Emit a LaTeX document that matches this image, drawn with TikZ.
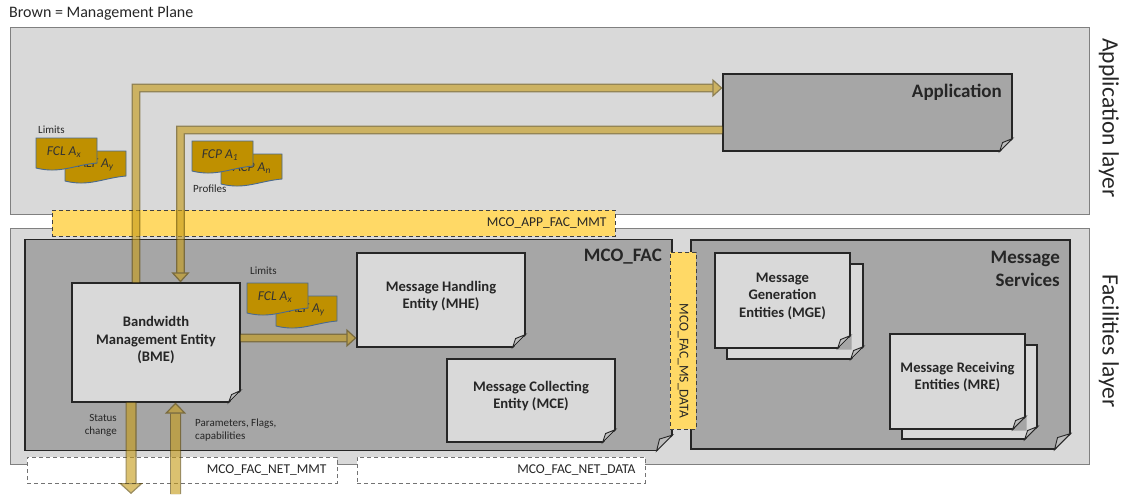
\documentclass[tikz,border=0pt]{standalone}
\usepackage{fontspec}
\setmainfont{Carlito}
\usetikzlibrary{arrows.meta}

\definecolor{panelgray}{HTML}{D9D9D9}
\definecolor{boxgray}{HTML}{A6A6A6}
\definecolor{foldgray}{HTML}{BDBDBD}
\definecolor{bandyellow}{HTML}{FFD966}
\definecolor{docbrown}{HTML}{BF9000}
\definecolor{docedge}{HTML}{4A6A8F}
\definecolor{flowedge}{HTML}{5F4800}

\tikzset{
	panel/.style={draw=gray, fill=panelgray, line width=0.8pt, rectangle, inner sep=0pt},
	notebox/.style={draw=black!85, fill=#1, line width=1.1pt, rectangle, inner sep=0pt},
	boxtext/.style={font=\fontsize{14.6}{17.6}\selectfont\bfseries, align=center, text=black!85},
	titletext/.style={font=\fontsize{19}{23}\selectfont\bfseries, align=right, text=black!85},
	smalltext/.style={font=\fontsize{11}{13}\selectfont, text=black!85},
	bandtext/.style={font=\fontsize{13.5}{15}\selectfont, text=black!85},
	layertext/.style={font=\fontsize{23.5}{25}\selectfont, rotate=-90, text=black!85},
	yellowband/.style={draw=black!75, fill=bandyellow, dash pattern=on 4pt off 3pt, line width=0.9pt},
	whiteband/.style={draw=black!55, fill=white, dash pattern=on 4pt off 3pt, line width=0.9pt},
	doc/.style={draw=docedge, fill=docbrown, line width=0.9pt},
	doctext/.style={font=\fontsize{13.5}{15}\selectfont\itshape, text=black!80},
	flow/.style={draw=flowedge, double=docbrown!90, line width=1.2pt, double distance=6.2pt,
		-{Triangle[length=10pt,width=18pt,fill=docbrown!90]}},
	wideflow/.style={draw=flowedge, double=docbrown!90, line width=1.2pt, double distance=8.6pt,
		-{Triangle[length=11pt,width=#1,fill=docbrown!90]}}
}

% fold in the lower right corner of a note: node, size, colour behind it
\newcommand{\notefold}[3]{
	\fill[#3] ([shift={(-#2,1)}]#1.south east) -- ([shift={(1,1)}]#1.south east) -- ([shift={(1,-#2)}]#1.south east) -- cycle;
	\draw[draw=black!85, fill=foldgray, line width=0.9pt] ([shift={(-#2,0)}]#1.south east) -- ([shift={(0,-#2)}]#1.south east) -- ([shift={(-#2+3,-#2+4)}]#1.south east) -- cycle;
}

% a pair of waved documents: name, x, y, front text, back text
\newcommand{\docpair}[5]{
	\draw[doc] (#2+29,#3+13) -- (#2+90,#3+13) -- (#2+90,#3+38) .. controls (#2+67,#3+40) and (#2+53,#3+49) .. (#2+29,#3+43) -- cycle;
	\node[doctext] (#1back) at (#2+60,#3+27) {#5};
	\draw[doc] (#2,#3) -- (#2+61,#3) -- (#2+61,#3+25) .. controls (#2+38,#3+27) and (#2+24,#3+36) .. (#2,#3+30) -- cycle;
	\node[doctext] (#1front) at (#2+28,#3+14) {#4};
}

\begin{document}
\begin{tikzpicture}[x=1pt,y=-1pt]
	\useasboundingbox (0,0) rectangle (1125,495);

	% layers
	\node[panel, minimum width=1079, minimum height=187] (applayer) at (549.5,120.5) {};
	\node[panel, minimum width=1079, minimum height=236] (faclayer) at (549.5,346) {};
	\node[font=\fontsize{16}{18}\selectfont, anchor=west, inner sep=0pt, text=black!85] (legend) at (9,13) {Brown = Management Plane};
	\node[layertext] (applabel) at (1109,118) {Application layer};
	\node[layertext] (faclabel) at (1109,341) {Facilities layer};

	% application
	\node[notebox=boxgray, minimum width=289, minimum height=77] (app) at (867.5,112.5) {};
	\notefold{app}{13}{panelgray}
	\node[titletext, anchor=east, inner sep=0pt] (apptext) at (1002,92) {Application};

	% containers
	\node[notebox=boxgray, minimum width=647, minimum height=211] (fac) at (348.5,345) {};
	\notefold{fac}{16}{panelgray}
	\node[titletext, anchor=east, inner sep=0pt] (factext) at (662,257) {MCO\_FAC};
	\node[notebox=boxgray, minimum width=379, minimum height=209] (ms) at (880.5,344.5) {};
	\notefold{ms}{16}{panelgray}
	\node[titletext, anchor=east, inner sep=0pt] (mstext) at (1060,268.5) {Message\\Services};

	% interfaces
	\node[yellowband, minimum width=563, minimum height=26] (appfac) at (333.5,223) {};
	\node[bandtext, anchor=east] (appfactext) at (610,223) {MCO\_APP\_FAC\_MMT};
	\node[yellowband, minimum width=26, minimum height=177] (facms) at (683,340.5) {};
	\node[bandtext, rotate=-90] (facmstext) at (683,361) {MCO\_FAC\_MS\_DATA};
	\node[whiteband, minimum width=310, minimum height=26] (netmmt) at (182,470) {};
	\node[bandtext, anchor=east] (netmmttext) at (330,470) {MCO\_FAC\_NET\_MMT};
	\node[whiteband, minimum width=288, minimum height=26] (netdata) at (501,470) {};
	\node[bandtext, anchor=east] (netdatatext) at (639,470) {MCO\_FAC\_NET\_DATA};

	% facilities
	\node[notebox=panelgray, minimum width=168, minimum height=119] (bme) at (156,342.5) {};
	\notefold{bme}{12}{boxgray}
	\node[boxtext] (bmetext) at (156,340) {Bandwidth\\Management Entity\\(BME)};
	\node[notebox=panelgray, minimum width=168, minimum height=94] (mhe) at (441,300) {};
	\notefold{mhe}{13}{boxgray}
	\node[boxtext] (mhetext) at (441,296) {Message Handling\\Entity (MHE)};
	\node[notebox=panelgray, minimum width=168, minimum height=83] (mce) at (531,400.5) {};
	\notefold{mce}{13}{boxgray}
	\node[boxtext] (mcetext) at (531,396) {Message Collecting\\Entity (MCE)};

	% message services
	\node[notebox=panelgray, minimum width=136, minimum height=95] (mgeback) at (795,311.5) {};
	\notefold{mgeback}{13}{boxgray}
	\node[notebox=panelgray, minimum width=135, minimum height=95] (mge) at (782.5,300.5) {};
	\notefold{mge}{13}{boxgray}
	\node[boxtext] (mgetext) at (782.5,296) {Message\\Generation\\Entities (MGE)};
	\node[notebox=panelgray, minimum width=135, minimum height=94] (mreback) at (969.5,392) {};
	\notefold{mreback}{13}{boxgray}
	\node[notebox=panelgray, minimum width=135, minimum height=95] (mre) at (957.5,381.5) {};
	\notefold{mre}{13}{boxgray}
	\node[boxtext] (mretext) at (957.5,377) {Message Receiving\\Entities (MRE)};

	% documents
	\docpair{limitsapp}{36}{138}{FCL A\textsubscript{x}}{ALF A\textsubscript{y}}
	\docpair{profiles}{192}{141}{FCP A\textsubscript{1}}{ACP A\textsubscript{n}}
	\docpair{limitsfac}{247}{283}{FCL A\textsubscript{x}}{ALF A\textsubscript{y}}
	\node[smalltext, anchor=west, inner sep=0pt] (limitsapptext) at (38,130) {Limits};
	\node[smalltext, anchor=west, inner sep=0pt] (profilestext) at (193,189) {Profiles};
	\node[smalltext, anchor=west, inner sep=0pt] (limitsfactext) at (250,271) {Limits};
	\node[smalltext, anchor=east, align=right, inner sep=0pt] (statustext) at (117,425.5) {Status\\change};
	\node[smalltext, anchor=west, align=left, inner sep=0pt] (paramtext) at (195,430.5) {Parameters, Flags,\\capabilities};

	% management flows
	\coordinate (statusend) at (131,494);
	\coordinate (paramstart) at (175.5,494);
	\begin{scope}[transparency group, opacity=0.62]
		\draw[flow] ([xshift=-20pt]bme.north) |- ([yshift=24.5pt]app.west);
		\draw[flow] ([yshift=-17.5pt]app.west) -| ([xshift=24.5pt]bme.north);
		\draw[flow] ([yshift=4.5pt]bme.east) -- ([yshift=4.5pt]bme.east -| mhe.west);
		\draw[wideflow=24pt] ([xshift=-25pt]bme.south) -- (statusend);
		\draw[wideflow=21pt] (paramstart) -- ([xshift=19.5pt]bme.south);
	\end{scope}

\end{tikzpicture}
\end{document}
